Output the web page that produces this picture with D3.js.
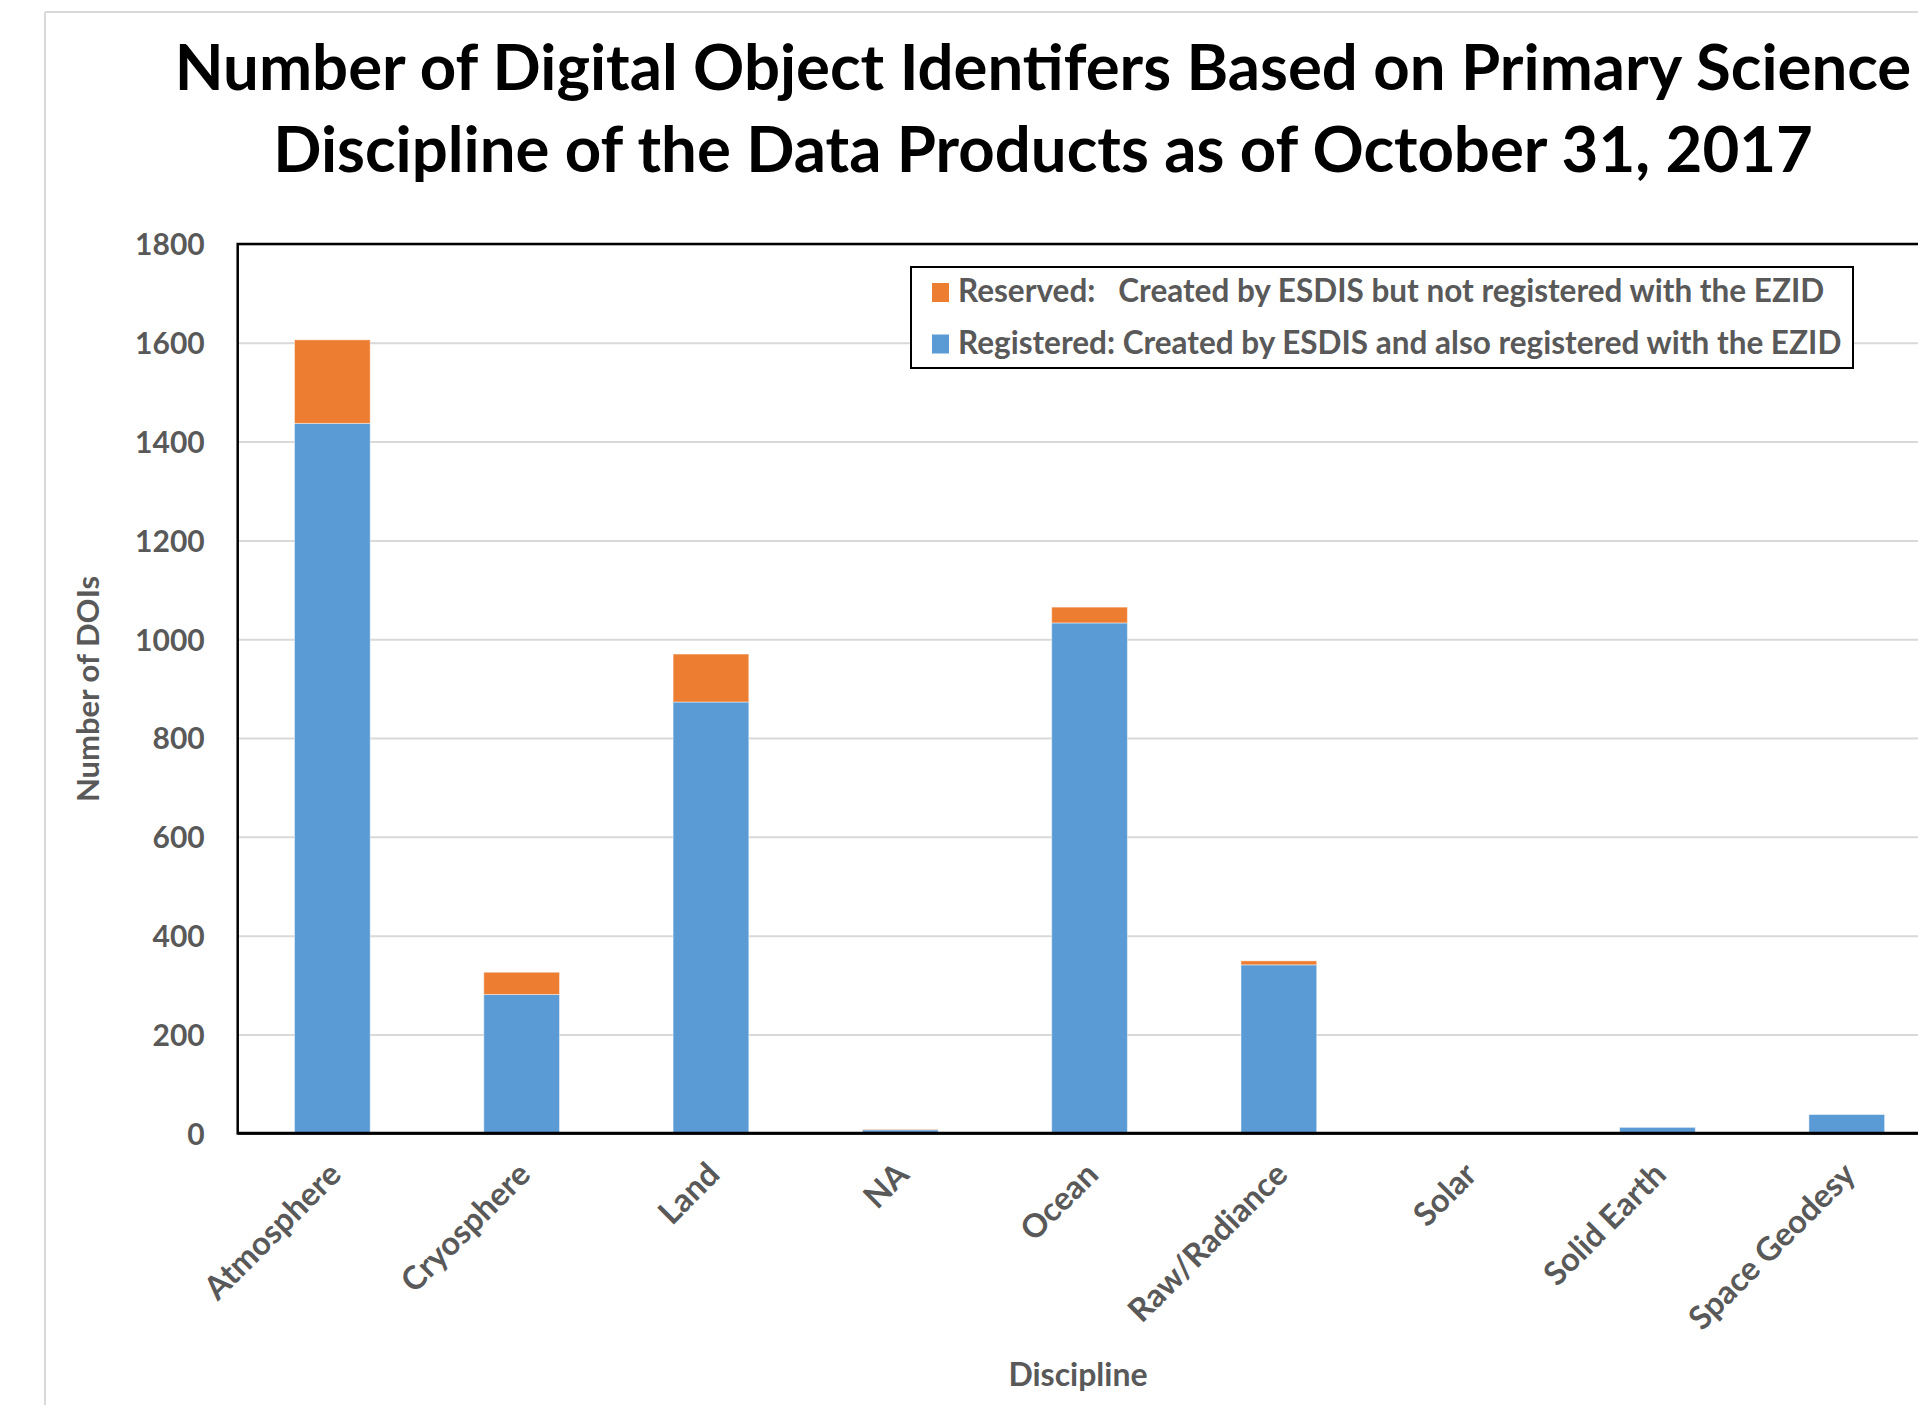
<!DOCTYPE html>
<html>
<head>
<meta charset="utf-8">
<script src="https://cdn.jsdelivr.net/npm/d3@7"></script>
<style>
  body { margin: 0; background: #fff; overflow: hidden; }
  text { font-family: Lato, "Open Sans", sans-serif; font-weight: bold; }
</style>
</head>
<body>
<div id="chart"></div>
<script>
// data
const categories = ["Atmosphere", "Cryosphere", "Land", "NA", "Ocean", "Raw/Radiance", "Solar", "Solid Earth", "Space Geodesy"];
const registered = [1437, 281, 873, 7, 1033, 341, 0, 12, 38];
const reserved = [169, 45, 97, 1, 32, 8, 0, 0, 0];
const yTicks = [0, 200, 400, 600, 800, 1000, 1200, 1400, 1600, 1800];
const titleLines = ["Number of Digital Object Identifers Based on Primary Science", "Discipline of the Data Products as of October 31, 2017"];
const legendItems = [
  { key: "reserved", label: "Reserved:   Created by ESDIS but not registered with the EZID" },
  { key: "registered", label: "Registered: Created by ESDIS and also registered with the EZID" }
];

const width = 1918, height = 1405;
const colors = { registered: "#5B9BD5", reserved: "#ED7D31" };
const grey = "#595959";

const plotLeft = 237.7, plotTop = 244, plotBottom = 1133.3;
const plotRight = plotLeft + 9 * 189.3; // plot runs past the right edge of the picture

const svg = d3.select("#chart").append("svg")
  .attr("width", width)
  .attr("height", height);

// outer frame lines (light grey)
svg.append("line").attr("x1", 45).attr("x2", width).attr("y1", 12).attr("y2", 12)
  .attr("stroke", "#d9d9d9").attr("stroke-width", 2);
svg.append("line").attr("x1", 45).attr("x2", 45).attr("y1", 12).attr("y2", height)
  .attr("stroke", "#d9d9d9").attr("stroke-width", 2);

const x = d3.scaleBand()
  .domain(categories)
  .range([plotLeft, plotRight])
  .paddingInner(0.6)
  .paddingOuter(0.3);

const y = d3.scaleLinear()
  .domain([0, 1800])
  .range([plotBottom, plotTop]);

// gridlines
svg.append("g")
  .attr("transform", "translate(" + plotLeft + ",0)")
  .call(d3.axisLeft(y).tickValues(yTicks).tickSize(-(plotRight - plotLeft)).tickFormat(""))
  .call(g => g.select(".domain").remove())
  .call(g => g.selectAll("line").attr("stroke", "#d9d9d9").attr("stroke-width", 2));

// stacked bars
const rows = categories.map((c, i) => ({ cat: c, registered: registered[i], reserved: reserved[i] }));
const series = d3.stack().keys(["registered", "reserved"])(rows);

svg.append("g").selectAll("g")
  .data(series)
  .enter().append("g")
  .attr("fill", d => colors[d.key])
  .selectAll("rect")
  .data(d => d)
  .enter().append("rect")
  .attr("x", d => x(d.data.cat))
  .attr("width", x.bandwidth())
  .attr("y", d => y(d[1]))
  .attr("height", d => y(d[0]) - y(d[1]))
  .attr("stroke", "rgba(255,255,255,0.45)")
  .attr("stroke-width", 1);

// plot frame
svg.append("rect")
  .attr("x", plotLeft).attr("y", plotTop)
  .attr("width", plotRight - plotLeft).attr("height", plotBottom - plotTop)
  .attr("fill", "none").attr("stroke", "#000").attr("stroke-width", 2.5);
svg.append("line")
  .attr("x1", plotLeft).attr("x2", plotRight).attr("y1", plotBottom).attr("y2", plotBottom)
  .attr("stroke", "#000").attr("stroke-width", 3);

// y axis labels
svg.append("g")
  .attr("transform", "translate(" + plotLeft + ",0)")
  .call(d3.axisLeft(y).tickValues(yTicks).tickSize(0).tickPadding(33).tickFormat(d3.format("d")))
  .call(g => g.select(".domain").remove())
  .call(g => g.selectAll("text")
    .attr("fill", grey)
    .attr("dy", "0.36em")
    .style("font-family", "Lato, sans-serif")
    .style("font-weight", "bold")
    .style("font-size", "30px"));

// x axis labels, rotated
svg.append("g").selectAll("text")
  .data(categories)
  .enter().append("text")
  .attr("transform", d => "translate(" + (x(d) + x.bandwidth() / 2 - 5) + ",1161)rotate(-45)")
  .attr("dy", "22px")
  .attr("text-anchor", "end")
  .attr("fill", grey)
  .style("font-size", "32.5px")
  .text(d => d);

// axis titles
svg.append("text")
  .attr("transform", "translate(99,689)rotate(-90)")
  .attr("text-anchor", "middle")
  .attr("fill", grey)
  .style("font-size", "31px")
  .text("Number of DOIs");

svg.append("text")
  .attr("x", 1078).attr("y", 1386)
  .attr("text-anchor", "middle")
  .attr("fill", grey)
  .style("font-size", "32px")
  .text("Discipline");

// title
svg.append("g").selectAll("text")
  .data(titleLines)
  .enter().append("text")
  .attr("x", 1043)
  .attr("y", (d, i) => 90 + i * 82)
  .attr("text-anchor", "middle")
  .attr("fill", "#000")
  .style("font-size", "63.5px")
  .text(d => d);

// legend
const legend = svg.append("g");
legend.append("rect")
  .attr("x", 911).attr("y", 267)
  .attr("width", 942).attr("height", 101)
  .attr("fill", "#fff").attr("stroke", "#000").attr("stroke-width", 2);
const items = legend.selectAll(".item")
  .data(legendItems)
  .enter().append("g")
  .attr("class", "item")
  .attr("transform", (d, i) => "translate(932," + (283 + i * 51.5) + ")");
items.append("rect")
  .attr("width", 17).attr("height", 19)
  .attr("fill", d => colors[d.key]);
items.append("text")
  .attr("x", 26).attr("y", 19)
  .attr("fill", grey)
  .style("font-size", "31.5px")
  .style("white-space", "pre")
  .text(d => d.label);
</script>
</body>
</html>
